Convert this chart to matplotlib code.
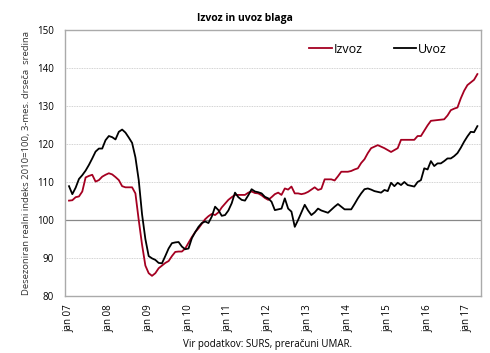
import matplotlib
matplotlib.use("Agg")
import matplotlib.pyplot as plt
import numpy as np

# monthly data, jan 2007 - apr 2017 (3-month moving average, 2010=100)
izvoz = [105.1, 105.2, 106.0, 106.2, 107.5, 111.2, 111.6, 111.9, 110.1, 110.5, 111.4, 111.9,
         112.3, 112.0, 111.3, 110.5, 108.9, 108.6, 108.6, 108.6, 107.0, 100.0, 93.5, 88.0,
         86.0, 85.3, 86.0, 87.3, 88.0, 88.7, 89.2, 90.5, 91.6, 91.7, 91.7, 92.5,
         94.0, 95.5, 96.8, 97.8, 99.0, 100.2, 101.0, 101.6, 101.3, 102.0, 103.3, 104.3,
         105.3, 106.0, 106.6, 106.6, 106.6, 106.6, 107.2, 107.5, 107.1, 107.0, 106.5, 105.8,
         105.3, 106.0, 106.8, 107.2, 106.6, 108.3, 108.0, 108.8, 107.0, 107.0, 106.8, 107.0,
         107.4, 108.0, 108.6, 107.9, 108.2, 110.7, 110.7, 110.7, 110.4, 111.5, 112.7, 112.7,
         112.7, 112.9, 113.3, 113.6, 115.0, 116.0, 117.6, 118.9, 119.3, 119.7, 119.3, 118.9,
         118.4, 117.9, 118.4, 118.9, 121.1, 121.1, 121.1, 121.1, 121.1, 122.1, 122.1, 123.5,
         124.9, 126.1, 126.2, 126.3, 126.4, 126.5, 127.5, 128.9, 129.3, 129.6, 132.0, 134.0,
         135.5, 136.2, 136.9, 138.4]

uvoz = [108.9, 106.8, 108.5, 110.8, 111.8, 113.0, 114.5, 116.2, 118.0, 118.8, 118.8, 121.0,
        122.1, 121.8, 121.2, 123.2, 123.8, 123.0, 121.7, 120.3, 116.5, 110.5, 101.5, 95.0,
        90.5, 89.9, 89.5, 88.7, 88.6, 90.5, 92.5, 93.9, 94.1, 94.2, 93.0, 92.3,
        92.5, 95.2, 96.8, 98.2, 99.2, 99.6, 99.2, 100.9, 103.5, 102.6, 101.1, 101.3,
        102.5, 104.4, 107.2, 106.0, 105.3, 105.1, 106.5, 108.1, 107.5, 107.3, 107.0, 106.1,
        105.7, 104.8, 102.6, 102.8, 103.0, 105.7, 103.0, 102.2, 98.2, 100.0, 102.0, 104.0,
        102.5, 101.3, 102.0, 103.0, 102.5, 102.2, 101.9, 102.7, 103.5, 104.2, 103.5, 102.8,
        102.8, 102.8, 104.2, 105.7, 107.0, 108.1, 108.3, 108.0, 107.6, 107.4, 107.2, 107.9,
        107.6, 109.8, 108.9, 109.8, 109.2, 110.0, 109.2, 109.0, 108.8, 110.0, 110.5, 113.6,
        113.3, 115.5, 114.2, 114.9, 114.9, 115.5, 116.2, 116.2, 116.8, 117.6, 119.0, 120.6,
        122.0, 123.2, 123.1, 124.7]

tick_labels = ["jan 07", "jan 08", "jan 09", "jan 10", "jan 11", "jan 12",
               "jan 13", "jan 14", "jan 15", "jan 16", "jan 17"]

plt.rcParams['font.family'] = ['Open Sans', 'DejaVu Sans']

fig = plt.figure(figsize=(4.9, 3.53), dpi=100)
ax = fig.add_axes([0.1327, 0.1615, 0.849, 0.7535])

x = np.arange(len(izvoz))
ax.plot(x, izvoz, color="#A50021", lw=1.3, label="Izvoz")
ax.plot(x, uvoz, color="black", lw=1.3, label="Uvoz")

ax.set_ylim(80, 150)
ax.set_xlim(-1.2, 124.1)
ax.set_yticks(range(80, 151, 10))
ax.set_xticks(np.arange(0, 121, 12))
ax.set_xticklabels(tick_labels, rotation=90, fontsize=7)
ax.tick_params(axis="y", labelsize=7, length=0, pad=8)
ax.tick_params(axis="x", length=0, pad=6)

# grid: dotted lines, solid line at 100
for v in [90, 110, 120, 130, 140]:
    ax.axhline(v, color="#c4c4c4", lw=0.6, ls=(0, (1, 1)), zorder=0)
ax.axhline(100, color="#888888", lw=0.9, zorder=0)

for s in ax.spines.values():
    s.set_color("#aaaaaa")
    s.set_linewidth(1.0)

ax.set_ylabel("Desezoniran realni indeks 2010=100, 3-mes. drseča  sredina", fontsize=6.8,
              labelpad=4, color="#333333")

leg = ax.legend(loc="upper right", ncol=2, frameon=False, fontsize=9, handlelength=1.8,
                handletextpad=0.15, columnspacing=2.5, bbox_to_anchor=(0.945, 0.995))

fig.text(0.5, 0.948, "Izvoz in uvoz blaga", ha="center", va="center", fontsize=7.5, fontweight="bold")
fig.text(0.547, 0.025, "Vir podatkov: SURS, preračuni UMAR.", ha="center", va="center", fontsize=7)

fig.savefig("out.png", dpi=100)
